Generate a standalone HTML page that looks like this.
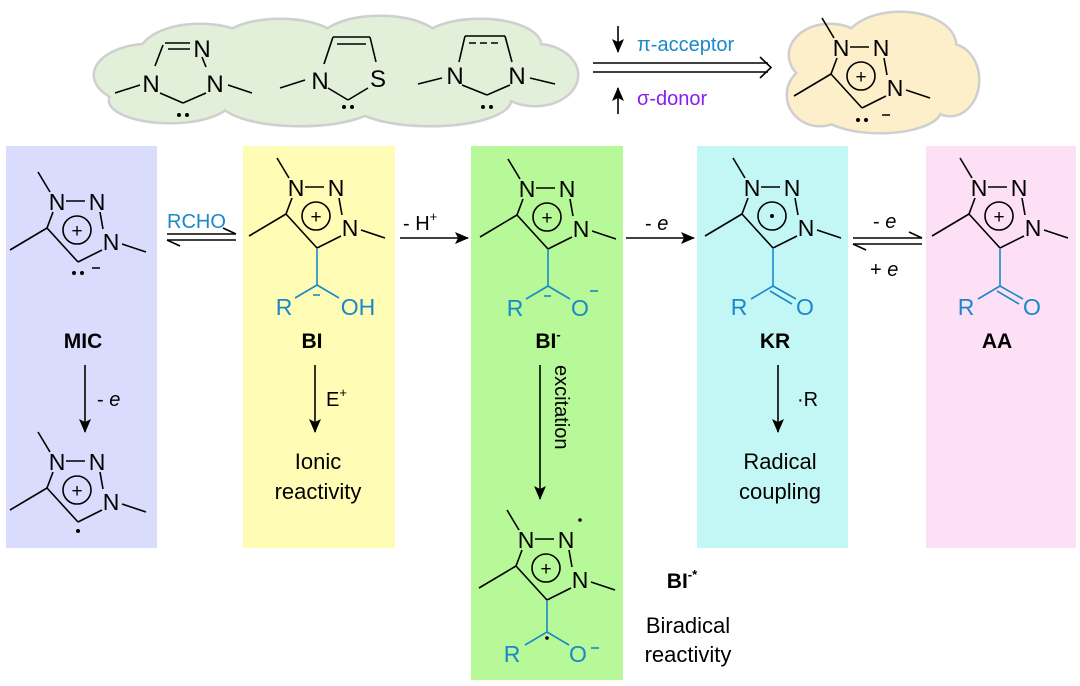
<!DOCTYPE html>
<html><head><meta charset="utf-8"><style>
html,body{margin:0;padding:0;background:#fff;}
svg{display:block;font-family:"Liberation Sans",Arial,sans-serif;}
</style></head><body>
<svg width="1080" height="686" viewBox="0 0 1080 686" xmlns="http://www.w3.org/2000/svg">
<defs>
<marker id="ah" markerWidth="14" markerHeight="12" refX="13" refY="6" orient="auto" markerUnits="userSpaceOnUse"><path d="M0,0 L14,6 L0,12 L3,6 Z" fill="#000"/></marker>
</defs>
<rect x="6" y="146" width="151" height="402" fill="#d9dcfc"/>
<rect x="243" y="146" width="152" height="402" fill="#fefcb5"/>
<rect x="471" y="146" width="152" height="534" fill="#b7f898"/>
<rect x="697" y="146" width="151" height="402" fill="#c3f7f6"/>
<rect x="926" y="146" width="150" height="402" fill="#fde0f6"/>

<g stroke="#cfcfcf" stroke-width="5" fill="#cfcfcf">
<ellipse cx="150" cy="75" rx="55" ry="30"/><ellipse cx="200" cy="55" rx="60" ry="30"/><ellipse cx="170" cy="100" rx="60" ry="22"/>
<ellipse cx="280" cy="45" rx="60" ry="25"/><ellipse cx="380" cy="42" rx="60" ry="25"/><ellipse cx="480" cy="45" rx="60" ry="25"/>
<ellipse cx="535" cy="75" rx="42" ry="30"/><ellipse cx="300" cy="100" rx="80" ry="25"/><ellipse cx="430" cy="100" rx="80" ry="25"/><ellipse cx="340" cy="75" rx="200" ry="35"/>
</g>
<g fill="#e2efd9">
<ellipse cx="150" cy="75" rx="55" ry="30"/><ellipse cx="200" cy="55" rx="60" ry="30"/><ellipse cx="170" cy="100" rx="60" ry="22"/>
<ellipse cx="280" cy="45" rx="60" ry="25"/><ellipse cx="380" cy="42" rx="60" ry="25"/><ellipse cx="480" cy="45" rx="60" ry="25"/>
<ellipse cx="535" cy="75" rx="42" ry="30"/><ellipse cx="300" cy="100" rx="80" ry="25"/><ellipse cx="430" cy="100" rx="80" ry="25"/><ellipse cx="340" cy="75" rx="200" ry="35"/>
</g>
<g stroke="#cfcfcf" stroke-width="5" fill="#cfcfcf">
<ellipse cx="830" cy="55" rx="40" ry="30"/><ellipse cx="900" cy="45" rx="55" ry="32"/><ellipse cx="950" cy="80" rx="28" ry="35"/><ellipse cx="820" cy="95" rx="32" ry="30"/><ellipse cx="880" cy="110" rx="60" ry="22"/><ellipse cx="885" cy="75" rx="80" ry="40"/>
</g>
<g fill="#fdefc9">
<ellipse cx="830" cy="55" rx="40" ry="30"/><ellipse cx="900" cy="45" rx="55" ry="32"/><ellipse cx="950" cy="80" rx="28" ry="35"/><ellipse cx="820" cy="95" rx="32" ry="30"/><ellipse cx="880" cy="110" rx="60" ry="22"/><ellipse cx="885" cy="75" rx="80" ry="40"/>
</g>

<g stroke="#000" stroke-width="1.6" fill="none">
<line x1="115" y1="93" x2="140" y2="85"/><line x1="228" y1="85" x2="252" y2="93"/>
<line x1="160" y1="93" x2="183" y2="103"/><line x1="206" y1="93" x2="183" y2="103"/>
<line x1="155" y1="66" x2="163" y2="45"/><line x1="165" y1="43" x2="190" y2="43"/><line x1="168" y1="49" x2="190" y2="49"/><line x1="202" y1="57" x2="206" y2="67"/>
<line x1="280" y1="88" x2="305" y2="80"/><line x1="328" y1="88" x2="348" y2="100"/><line x1="368" y1="88" x2="348" y2="100"/>
<line x1="324" y1="64" x2="333" y2="37"/><line x1="333" y1="37" x2="370" y2="37"/><line x1="337" y1="44" x2="366" y2="44"/><line x1="370" y1="37" x2="376" y2="62"/>
<line x1="418" y1="84" x2="442" y2="78"/><line x1="530" y1="78" x2="555" y2="84"/><line x1="462" y1="85" x2="487" y2="95"/><line x1="510" y1="85" x2="487" y2="95"/>
<line x1="459" y1="62" x2="465" y2="36"/><line x1="465" y1="36" x2="505" y2="36"/><line x1="505" y1="36" x2="512" y2="62"/>
<line x1="469" y1="43" x2="501" y2="43" stroke-dasharray="7,4"/>
</g>
<g font-size="24" text-anchor="middle" fill="#000">
<text x="151" y="92">N</text><text x="215" y="92">N</text><text x="202" y="57">N</text>
<text x="320" y="89">N</text><text x="378" y="87">S</text>
<text x="455" y="84">N</text><text x="517" y="84">N</text>
</g>
<g fill="#000"><circle cx="179" cy="115" r="2"/><circle cx="187" cy="115" r="2"/><circle cx="344" cy="107" r="2"/><circle cx="352" cy="107" r="2"/><circle cx="483" cy="107" r="2"/><circle cx="491" cy="107" r="2"/></g>

<g stroke="#000" stroke-width="1.6" fill="none">
<line x1="593" y1="63" x2="768" y2="63"/><line x1="593" y1="72" x2="768" y2="72"/>
<path d="M760,57 L771,67.5 L760,78"/>
<line x1="618" y1="26" x2="618" y2="52" marker-end="url(#ah)"/>
<line x1="618" y1="114" x2="618" y2="88" marker-end="url(#ah)"/>
</g>
<text x="637" y="51" font-size="20" fill="#1a88c9">π-acceptor</text>
<text x="637" y="105" font-size="20" fill="#8a1cf0">σ-donor</text>

<g transform="translate(862,108)">
<g stroke="#000" stroke-width="1.6" fill="none"><line x1="-31" y1="-34" x2="0" y2="0"/><line x1="0" y1="0" x2="24" y2="-12"/><line x1="-31" y1="-34" x2="-25" y2="-50"/><line x1="-12" y1="-61" x2="7" y2="-61"/><line x1="22" y1="-50" x2="25" y2="-33"/><line x1="-28" y1="-70" x2="-40" y2="-90"/><line x1="-31" y1="-34" x2="-68" y2="-12"/><line x1="44" y1="-18" x2="68" y2="-10"/><circle cx="-1" cy="-32" r="14"/></g>
<g font-size="23" text-anchor="middle"><text x="-21" y="-52">N</text><text x="19" y="-52">N</text><text x="33" y="-12">N</text><text x="-1" y="-25" font-size="19">+</text></g>
<circle cx="-4" cy="12" r="2"/><circle cx="4" cy="12" r="2"/><line x1="20" y1="7" x2="28" y2="7" stroke="#000" stroke-width="1.5"/>
</g>

<g transform="translate(78,262)">
<g stroke="#000" stroke-width="1.6" fill="none"><line x1="-31" y1="-34" x2="0" y2="0"/><line x1="0" y1="0" x2="24" y2="-12"/><line x1="-31" y1="-34" x2="-25" y2="-50"/><line x1="-12" y1="-61" x2="7" y2="-61"/><line x1="22" y1="-50" x2="25" y2="-33"/><line x1="-28" y1="-70" x2="-40" y2="-90"/><line x1="-31" y1="-34" x2="-68" y2="-12"/><line x1="44" y1="-18" x2="68" y2="-10"/><circle cx="-1" cy="-32" r="14"/></g>
<g font-size="23" text-anchor="middle"><text x="-21" y="-52">N</text><text x="19" y="-52">N</text><text x="33" y="-12">N</text><text x="-1" y="-25" font-size="19">+</text></g>
<circle cx="-4" cy="11" r="2"/><circle cx="4" cy="11" r="2"/><line x1="14" y1="6" x2="22" y2="6" stroke="#000" stroke-width="1.5"/>
</g>
<g transform="translate(78,522)">
<g stroke="#000" stroke-width="1.6" fill="none"><line x1="-31" y1="-34" x2="0" y2="0"/><line x1="0" y1="0" x2="24" y2="-12"/><line x1="-31" y1="-34" x2="-25" y2="-50"/><line x1="-12" y1="-61" x2="7" y2="-61"/><line x1="22" y1="-50" x2="25" y2="-33"/><line x1="-28" y1="-70" x2="-40" y2="-90"/><line x1="-31" y1="-34" x2="-68" y2="-12"/><line x1="44" y1="-18" x2="68" y2="-10"/><circle cx="-1" cy="-32" r="14"/></g>
<g font-size="23" text-anchor="middle"><text x="-21" y="-52">N</text><text x="19" y="-52">N</text><text x="33" y="-12">N</text><text x="-1" y="-25" font-size="19">+</text></g>
<circle cx="0" cy="9" r="2"/>
</g>
<g transform="translate(317,248)">
<g stroke="#000" stroke-width="1.6" fill="none"><line x1="-31" y1="-34" x2="0" y2="0"/><line x1="0" y1="0" x2="24" y2="-12"/><line x1="-31" y1="-34" x2="-25" y2="-50"/><line x1="-12" y1="-61" x2="7" y2="-61"/><line x1="22" y1="-50" x2="25" y2="-33"/><line x1="-28" y1="-70" x2="-40" y2="-90"/><line x1="-31" y1="-34" x2="-68" y2="-12"/><line x1="44" y1="-18" x2="68" y2="-10"/><circle cx="-1" cy="-32" r="14"/></g>
<g font-size="23" text-anchor="middle"><text x="-21" y="-52">N</text><text x="19" y="-52">N</text><text x="33" y="-12">N</text><text x="-1" y="-25" font-size="19">+</text></g>
<g stroke="#1a88c9" stroke-width="1.6"><line x1="0" y1="0" x2="0" y2="37"/><line x1="0" y1="37" x2="-22" y2="50"/><line x1="0" y1="37" x2="22" y2="50"/><line x1="-4" y1="47" x2="3" y2="47"/></g>
<g font-size="23" text-anchor="middle" fill="#1a88c9"><text x="-33" y="67">R</text><text x="41" y="67">OH</text></g>
</g>
<g transform="translate(548,249)">
<g stroke="#000" stroke-width="1.6" fill="none"><line x1="-31" y1="-34" x2="0" y2="0"/><line x1="0" y1="0" x2="24" y2="-12"/><line x1="-31" y1="-34" x2="-25" y2="-50"/><line x1="-12" y1="-61" x2="7" y2="-61"/><line x1="22" y1="-50" x2="25" y2="-33"/><line x1="-28" y1="-70" x2="-40" y2="-90"/><line x1="-31" y1="-34" x2="-68" y2="-12"/><line x1="44" y1="-18" x2="68" y2="-10"/><circle cx="-1" cy="-32" r="14"/></g>
<g font-size="23" text-anchor="middle"><text x="-21" y="-52">N</text><text x="19" y="-52">N</text><text x="33" y="-12">N</text><text x="-1" y="-25" font-size="19">+</text></g>
<g stroke="#1a88c9" stroke-width="1.6"><line x1="0" y1="0" x2="0" y2="37"/><line x1="0" y1="37" x2="-22" y2="50"/><line x1="0" y1="37" x2="22" y2="50"/><line x1="-4" y1="47" x2="3" y2="47"/><line x1="42" y1="42" x2="50" y2="42"/></g>
<g font-size="23" text-anchor="middle" fill="#1a88c9"><text x="-33" y="67">R</text><text x="32" y="67">O</text></g>
</g>
<g transform="translate(547,600)">
<g stroke="#000" stroke-width="1.6" fill="none"><line x1="-31" y1="-34" x2="0" y2="0"/><line x1="0" y1="0" x2="24" y2="-12"/><line x1="-31" y1="-34" x2="-25" y2="-50"/><line x1="-12" y1="-61" x2="7" y2="-61"/><line x1="22" y1="-50" x2="25" y2="-33"/><line x1="-28" y1="-70" x2="-40" y2="-90"/><line x1="-31" y1="-34" x2="-68" y2="-12"/><line x1="44" y1="-18" x2="68" y2="-10"/><circle cx="-1" cy="-32" r="14"/></g>
<g font-size="23" text-anchor="middle"><text x="-21" y="-52">N</text><text x="19" y="-52">N</text><text x="33" y="-12">N</text><text x="-1" y="-25" font-size="19">+</text></g>
<circle cx="33" cy="-80" r="1.8"/>
<g stroke="#1a88c9" stroke-width="1.6"><line x1="0" y1="0" x2="0" y2="32"/><line x1="0" y1="32" x2="-22" y2="45"/><line x1="0" y1="32" x2="22" y2="45"/><line x1="44" y1="48" x2="52" y2="48"/></g>
<circle cx="0" cy="38" r="1.8"/>
<g font-size="23" text-anchor="middle" fill="#1a88c9"><text x="-35" y="62">R</text><text x="31" y="62">O</text></g>
</g>
<g transform="translate(773,248)">
<g stroke="#000" stroke-width="1.6" fill="none"><line x1="-31" y1="-34" x2="0" y2="0"/><line x1="0" y1="0" x2="24" y2="-12"/><line x1="-31" y1="-34" x2="-25" y2="-50"/><line x1="-12" y1="-61" x2="7" y2="-61"/><line x1="22" y1="-50" x2="25" y2="-33"/><line x1="-28" y1="-70" x2="-40" y2="-90"/><line x1="-31" y1="-34" x2="-68" y2="-12"/><line x1="44" y1="-18" x2="68" y2="-10"/><circle cx="-1" cy="-32" r="14"/></g>
<g font-size="23" text-anchor="middle"><text x="-21" y="-52">N</text><text x="19" y="-52">N</text><text x="33" y="-12">N</text></g>
<circle cx="-1" cy="-32" r="2"/>
<g stroke="#1a88c9" stroke-width="1.6"><line x1="0" y1="0" x2="0" y2="38"/><line x1="0" y1="38" x2="-22" y2="51"/><line x1="0" y1="38" x2="23" y2="51"/><line x1="-3" y1="43" x2="19" y2="56"/></g>
<g font-size="23" text-anchor="middle" fill="#1a88c9"><text x="-34" y="67">R</text><text x="32" y="67">O</text></g>
</g>
<g transform="translate(1000,248)">
<g stroke="#000" stroke-width="1.6" fill="none"><line x1="-31" y1="-34" x2="0" y2="0"/><line x1="0" y1="0" x2="24" y2="-12"/><line x1="-31" y1="-34" x2="-25" y2="-50"/><line x1="-12" y1="-61" x2="7" y2="-61"/><line x1="22" y1="-50" x2="25" y2="-33"/><line x1="-28" y1="-70" x2="-40" y2="-90"/><line x1="-31" y1="-34" x2="-68" y2="-12"/><line x1="44" y1="-18" x2="68" y2="-10"/><circle cx="-1" cy="-32" r="14"/></g>
<g font-size="23" text-anchor="middle"><text x="-21" y="-52">N</text><text x="19" y="-52">N</text><text x="33" y="-12">N</text><text x="-1" y="-25" font-size="19">+</text></g>
<g stroke="#1a88c9" stroke-width="1.6"><line x1="0" y1="0" x2="0" y2="38"/><line x1="0" y1="38" x2="-22" y2="51"/><line x1="0" y1="38" x2="23" y2="51"/><line x1="-3" y1="43" x2="19" y2="56"/></g>
<g font-size="23" text-anchor="middle" fill="#1a88c9"><text x="-34" y="67">R</text><text x="32" y="67">O</text></g>
</g>

<g stroke="#000" stroke-width="1.6" fill="none">
<line x1="167" y1="234" x2="236" y2="234"/><path d="M236,234 L223,228"/>
<line x1="167" y1="240" x2="236" y2="240"/><path d="M167,240 L180,246"/>
<line x1="400" y1="238" x2="468" y2="238" marker-end="url(#ah)"/>
<line x1="626" y1="238" x2="694" y2="238" marker-end="url(#ah)"/>
<line x1="853" y1="238" x2="922" y2="238"/><path d="M922,238 L909,232"/>
<line x1="853" y1="244" x2="922" y2="244"/><path d="M853,244 L866,250"/>
<line x1="85" y1="365" x2="85" y2="432" marker-end="url(#ah)"/>
<line x1="315" y1="365" x2="315" y2="432" marker-end="url(#ah)"/>
<line x1="540" y1="365" x2="540" y2="499" marker-end="url(#ah)"/>
<line x1="778" y1="365" x2="778" y2="432" marker-end="url(#ah)"/>
</g>
<g font-size="20" fill="#000">
<text x="167" y="228" fill="#1a88c9">RCHO</text>
<text x="403" y="230">- H<tspan font-size="13" dy="-9">+</tspan></text>
<text x="645" y="230">- <tspan font-style="italic">e</tspan></text>
<text x="873" y="228">- <tspan font-style="italic">e</tspan></text>
<text x="870" y="276">+ <tspan font-style="italic">e</tspan></text>
<text x="97" y="406">- <tspan font-style="italic">e</tspan></text>
<text x="326" y="406">E<tspan font-size="13" dy="-9">+</tspan></text>
<text x="797" y="406">·R</text>
</g>
<text transform="translate(555,365) rotate(90)" font-size="20" fill="#000">excitation</text>
<g font-size="22" text-anchor="middle" fill="#000">
<text x="318" y="469">Ionic</text><text x="318" y="499">reactivity</text>
<text x="780" y="469">Radical</text><text x="780" y="499">coupling</text>
<text x="688" y="633">Biradical</text><text x="688" y="662">reactivity</text>
</g>
<g font-size="21" font-weight="bold" text-anchor="middle" fill="#000">
<text x="83" y="348">MIC</text>
<text x="312" y="348">BI</text>
<text x="548" y="348">BI<tspan font-size="13" dy="-9">-</tspan></text>
<text x="775" y="348">KR</text>
<text x="997" y="348">AA</text>
<text x="682" y="588">BI<tspan font-size="13" dy="-9">-*</tspan></text>
</g>
</svg>
</body></html>
